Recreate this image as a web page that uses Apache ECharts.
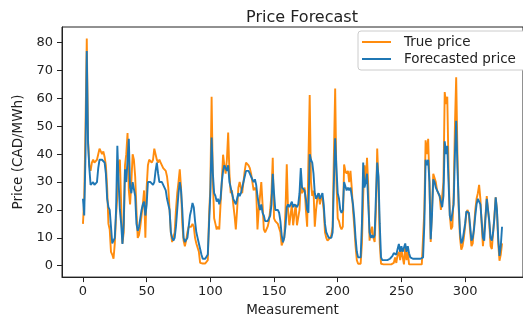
<!DOCTYPE html>
<html>
<head>
<meta charset="utf-8">
<script src="https://cdn.jsdelivr.net/npm/echarts@6/dist/echarts.min.js"></script>
<style>
html,body{margin:0;padding:0;background:#fff;}
#chart{width:523px;height:322px;}
</style>
</head>
<body>
<div id="chart"></div>
<script>
// Series values, index = measurement number
var truePrice = [
  15, 24, 50, 81.5, 45, 36, 34, 37, 38, 37,
  37, 38, 40, 42, 42, 40, 41, 39, 36, 28,
  15, 13, 5, 4, 2.5, 8, 18, 25, 37, 38,
  22, 8, 12, 36, 40, 47.6, 27, 22, 30, 40,
  38, 32, 20, 10, 11, 14, 18, 22, 27, 10,
  28, 36, 38, 38, 37, 38, 42, 40, 38, 37,
  38, 37, 36, 35, 35, 34, 32, 28, 20, 12,
  8.5, 9, 12, 20, 26, 30, 34.6, 28, 15, 9,
  7, 9, 12, 14, 14, 14, 15, 14, 10, 8,
  8, 5, 1, 0.8, 0.8, 0.8, 0.8, 1, 2, 18,
  28, 60.6, 30, 17, 15, 13, 14, 13, 22, 30,
  39.8, 36, 33, 38, 47.8, 33, 26, 27, 22, 18,
  13, 20, 28, 30, 30, 26, 30, 34, 37, 37,
  36, 35, 33, 30, 27, 28, 27, 13, 20, 25,
  30, 22, 13, 12, 12, 14, 16, 20, 26, 38.7,
  17, 16, 15.5, 15, 15, 12, 7.3, 7.4, 10, 20,
  36.4, 20, 14.5, 14.5, 22, 14.5, 14.5, 22, 14.5, 14,
  20, 30, 26, 27, 28, 20, 14, 14, 61.2, 30,
  25, 27, 14, 20, 24, 26, 22, 25, 24, 20,
  12, 10, 9, 9, 10, 11, 14, 40, 63.5, 30,
  17, 16, 14, 13, 14, 36.3, 34, 33, 34, 30,
  34, 28, 20, 14, 7, 2, 0.7, 0.7, 0.7, 8,
  25, 36, 30, 38.7, 28, 9, 12, 14, 10, 8.5,
  20, 42, 30, 8, 0.7, 0.5, 0.5, 0.5, 0.5, 0.5,
  0.5, 0.5, 0.5, 0.5, 1, 3, 1, 4, 5, 2,
  6, 3, 0.5, 7, 2, 5, 0.5, 1, 0.5, 0.5,
  0.5, 0.5, 0.5, 0.5, 0.5, 0.5, 0.5, 1, 20, 45,
  40, 45.5, 30, 8.5, 20, 33, 33, 30, 27, 27,
  25, 20, 20, 30, 62.3, 58, 60.6, 35, 18, 13,
  14, 25, 50, 67.6, 40, 20, 10, 5.8, 7, 10,
  14, 19, 20, 18, 12, 7, 8, 14, 20, 24,
  26, 29, 24, 15, 7, 7, 18, 25, 25, 15,
  7, 6, 12, 18, 24.5, 20, 8, 1.8, 4, 8
];
var forecastPrice = [
  24, 18, 40, 77, 44, 35, 29, 29, 30, 29,
  29, 30, 35, 38, 38, 38, 38, 37, 33, 24,
  21, 20, 14, 8, 7.8, 10, 20, 43, 30, 20,
  15, 7.8, 15, 34.6, 30, 38, 45.5, 28, 26, 30,
  30, 25, 15, 12.5, 14, 17, 20, 22, 23, 18,
  22, 30, 30, 30, 30, 29, 30, 34, 37, 33,
  30, 30, 30, 29, 28, 27, 24, 24, 20, 12,
  10, 9, 10, 14, 20, 26, 30, 27, 20, 10,
  8.5, 8, 10, 14, 18, 20, 22.5, 21, 16, 12,
  10, 8, 6, 4, 2.5, 2.5, 2.5, 2.5, 4, 15,
  26, 46, 33, 26, 25, 23, 24, 22, 24, 30,
  34, 36, 36, 34, 36, 30, 28, 28, 24, 24,
  22, 24, 26, 25, 26, 28, 30, 32, 34, 34,
  34, 33, 32, 31, 30, 31, 29, 25, 22, 20,
  22, 19, 18, 16, 16, 16, 17, 18, 22, 33,
  26, 20, 20, 20, 19, 16, 11, 8.4, 10, 14,
  21, 22, 21, 22, 23, 21, 22, 22, 21, 22,
  26, 35, 28, 27.5, 27, 24, 20, 19, 40, 38,
  37, 33, 26, 24, 25, 26, 24, 25, 26, 22,
  15, 12, 11, 10, 10, 10, 12, 30, 45.7, 35,
  26, 24, 20, 19, 20, 30, 30, 27, 28, 27,
  28, 25, 22, 17, 10, 5, 3, 3, 3, 15,
  37, 28, 30, 33, 22, 12, 10, 11, 10, 11,
  25, 37, 32, 15, 3, 2, 2, 2, 2, 2,
  2, 2.5, 3, 3.5, 4.5, 5, 4, 6, 7.8, 5,
  7, 5, 4.5, 8, 5, 7, 4.5, 3, 2.5, 2.5,
  2.5, 2.5, 2.5, 2.5, 2.5, 2.5, 2.5, 3, 15, 38,
  36, 38, 30, 9.5, 18, 31, 30, 28, 27, 27,
  25, 23, 21, 25, 44.6, 40, 43, 30, 18, 16,
  16, 22, 40, 52, 35, 22, 12, 8, 9, 12,
  15, 19.5, 19.5, 19, 14, 9, 10, 13, 18, 22,
  24, 24, 22, 16, 10, 9, 17, 24, 24, 16,
  10, 9, 12, 17, 24.5, 20, 10, 3.5, 7, 14
];
var xTicks = [0, 50, 100, 150, 200, 250, 300];
var yTicks = [0, 10, 20, 30, 40, 50, 60, 70, 80];

var trueData = truePrice.map(function (v, i) { return [i, v]; });
var fcData = forecastPrice.map(function (v, i) { return [i, v]; });

var txt = '#222';
var font = 'DejaVu Sans';
var chart = echarts.init(document.getElementById('chart'), null, {renderer: 'canvas'});
chart.setOption({
  animation: false,
  backgroundColor: '#fff',
  title: {
    text: 'Price Forecast',
    left: 297, top: 5, textAlign: 'center',
    textStyle: {fontFamily: font, fontSize: 16, fontWeight: 'normal', color: txt}
  },
  grid: {left: 62, top: 27, width: 470, height: 257, show: true,
         borderColor: '#222', borderWidth: 1, backgroundColor: 'transparent'},
  legend: {
    orient: 'vertical', left: 358, top: 31,
    padding: [4, 30, 4, 4],
    icon: 'rect',
    itemWidth: 29, itemHeight: 2, itemGap: 3,
    backgroundColor: '#fff', borderColor: '#ccc', borderWidth: 1, borderRadius: 3,
    textStyle: {fontFamily: font, fontSize: 13.5, color: txt, padding: [0, 0, 0, 8]},
    data: ['True price', 'Forecasted price']
  },
  xAxis: {
    type: 'value', min: -16.45, max: 345.45,
    name: 'Measurement', nameLocation: 'middle', nameGap: 24,
    nameTextStyle: {fontFamily: font, fontSize: 13.5, color: txt},
    axisLine: {show: true, onZero: false, lineStyle: {color: '#222', width: 1}},
    axisTick: {show: true, length: 5, customValues: xTicks, lineStyle: {color: '#222'}},
    axisLabel: {customValues: xTicks, margin: 8, fontFamily: font, fontSize: 13, color: txt},
    splitLine: {show: false}
  },
  yAxis: {
    type: 'value', min: -4.075, max: 85.6,
    name: 'Price (CAD/MWh)', nameLocation: 'middle', nameGap: 35, nameRotate: 90,
    nameTextStyle: {fontFamily: font, fontSize: 13.5, color: txt},
    axisLine: {show: true, onZero: false, lineStyle: {color: '#222', width: 1}},
    axisTick: {show: true, length: 5, customValues: yTicks, lineStyle: {color: '#222'}},
    axisLabel: {customValues: yTicks, margin: 9, fontFamily: font, fontSize: 13, color: txt},
    splitLine: {show: false}
  },
  series: [
    {name: 'True price', type: 'line', data: trueData, symbol: 'none',
     lineStyle: {color: '#ff8c0e', width: 1.9}, itemStyle: {color: '#ff8c0e'}},
    {name: 'Forecasted price', type: 'line', data: fcData, symbol: 'none',
     lineStyle: {color: '#1f77b4', width: 1.9}, itemStyle: {color: '#1f77b4'}}
  ]
});
</script>
</body>
</html>
